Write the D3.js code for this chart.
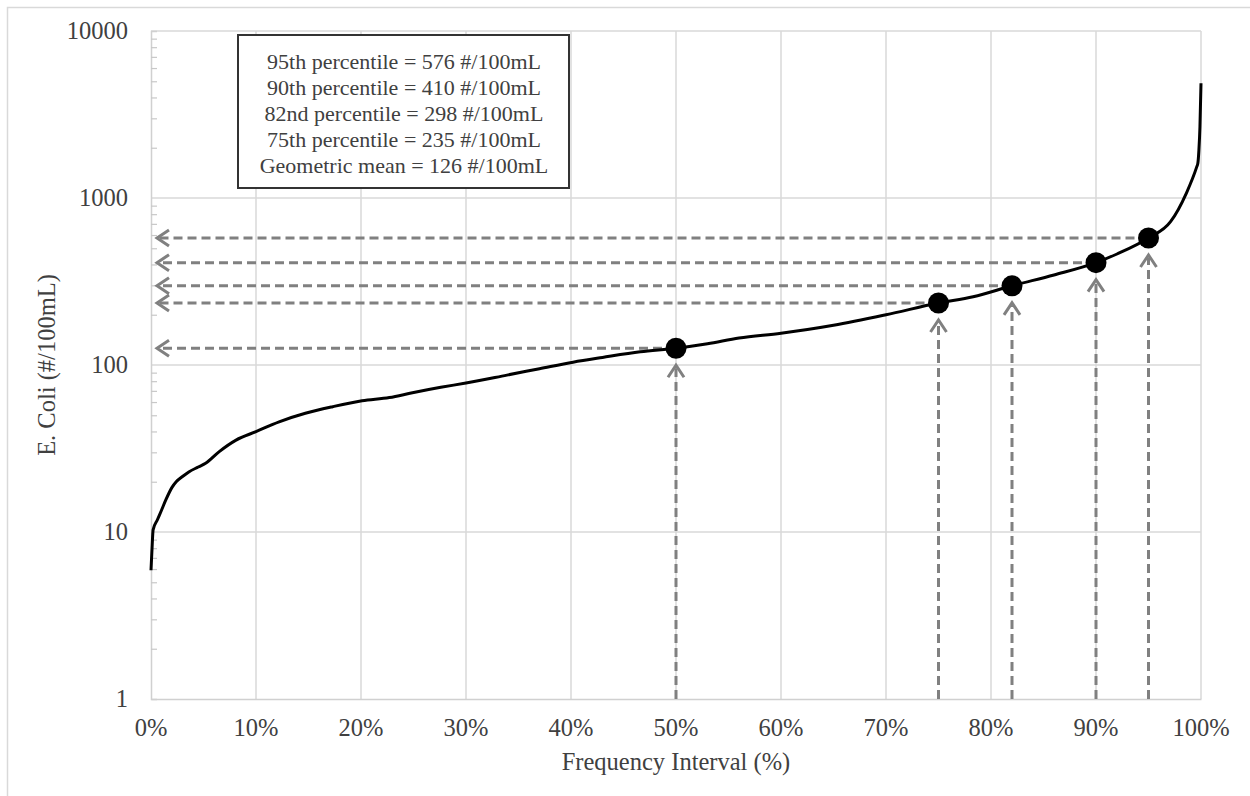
<!DOCTYPE html>
<html>
<head>
<meta charset="utf-8">
<script src="https://cdn.jsdelivr.net/npm/d3@7"></script>
<style>
  html, body { margin: 0; padding: 0; background: #fff; }
  svg { display: block; }
  text { font-family: "Liberation Serif", "Times New Roman", serif; fill: #404040; }
</style>
</head>
<body>
<svg id="chart" width="1250" height="796"></svg>
<script>
// Cumulative frequency curve of E. coli counts (percent of samples, #/100mL)
const curvePercent = [0, 0.1, 0.2, 0.6, 1.0, 1.4, 2.0, 2.4, 3.0, 3.6, 4.5, 5.2, 6.5, 8.1, 10, 12.2, 14.7, 17.3, 20.1, 22.7, 24.9, 27.6, 30, 33.9, 37, 40.2, 43, 46.6, 50, 53, 56, 60, 65, 70, 75, 78.3, 82, 86, 90, 92, 95, 97.1, 98.6, 99.6, 99.7, 99.8, 99.9, 100];
const curveValue   = [5.9, 8, 10.3, 11.8, 13.5, 15.5, 18.5, 20, 21.5, 22.9, 24.5, 25.8, 30.3, 35.5, 39.9, 45.7, 51.4, 56.3, 61.1, 63.8, 68.2, 73.5, 78, 87, 95, 104, 111, 120, 126, 134, 145, 155, 173, 200, 235, 256, 298, 346, 410, 462, 576, 721, 1067, 1541, 1614, 1937, 2673, 4860];

// Highlighted statistics
const markPercent = [50, 75, 82, 90, 95];
const markValue   = [126, 235, 298, 410, 576];

const legendLines = [
  "95th percentile = 576 #/100mL",
  "90th percentile = 410 #/100mL",
  "82nd percentile = 298 #/100mL",
  "75th percentile = 235 #/100mL",
  "Geometric mean = 126 #/100mL"
];

const xTicks = [0, 10, 20, 30, 40, 50, 60, 70, 80, 90, 100];
const yTicks = [1, 10, 100, 1000, 10000];

const svg = d3.select("#chart");

// outer frame
svg.append("rect")
  .attr("x", 7.5).attr("y", 7.5).attr("width", 1260).attr("height", 800)
  .attr("fill", "none").attr("stroke", "#d9d9d9").attr("stroke-width", 1.5);

const x = d3.scaleLinear().domain([0, 100]).range([151, 1201]);
const y = d3.scaleLog().domain([1, 10000]).range([699, 31]);

const grid = svg.append("g");
grid.selectAll("line.v").data(xTicks.slice(1)).join("line")
  .attr("x1", d => x(d)).attr("x2", d => x(d))
  .attr("y1", y(10000)).attr("y2", y(1))
  .attr("stroke", "#d9d9d9").attr("stroke-width", 1.5);
grid.selectAll("line.h").data(yTicks.slice(1)).join("line")
  .attr("x1", x(0)).attr("x2", x(100))
  .attr("y1", d => y(d)).attr("y2", d => y(d))
  .attr("stroke", "#d9d9d9").attr("stroke-width", 1.5);

// left axis with minor log ticks pointing inward
const minor = [];
for (let dec = 1; dec < 10000; dec *= 10)
  for (let m = 2; m <= 9; m++) minor.push(dec * m);
const yAxis = d3.axisLeft(y).tickValues(minor).tickSize(-6).tickFormat("");
const ya = svg.append("g").attr("transform", `translate(${x(0)},0)`).call(yAxis);
ya.select(".domain").attr("stroke", "#d0d0d0").attr("stroke-width", 1.5);
ya.selectAll(".tick line").attr("stroke", "#c8c8c8").attr("stroke-width", 1.2);

// bottom axis line
const xAxis = d3.axisBottom(x).tickValues(xTicks).tickSize(0).tickFormat("");
const xa = svg.append("g").attr("transform", `translate(0,${y(1)})`).call(xAxis);
xa.select(".domain").attr("stroke", "#d0d0d0").attr("stroke-width", 1.5);

// tick labels
svg.append("g").selectAll("text").data(xTicks).join("text")
  .attr("x", d => x(d)).attr("y", 736)
  .attr("text-anchor", "middle").attr("font-size", 24.5)
  .text(d => d + "%");
svg.append("g").selectAll("text").data(yTicks).join("text")
  .attr("x", 128).attr("y", d => y(d) + 8)
  .attr("text-anchor", "end").attr("font-size", 24.5)
  .text(d => d);

// axis titles
svg.append("text").attr("x", 676).attr("y", 770)
  .attr("text-anchor", "middle").attr("font-size", 24.5)
  .text("Frequency Interval (%)");
svg.append("text")
  .attr("transform", `translate(55,365) rotate(-90)`)
  .attr("text-anchor", "middle").attr("font-size", 24.5)
  .text("E. Coli (#/100mL)");

// dashed leader arrows
const arrows = svg.append("g")
  .attr("stroke", "#808080").attr("stroke-width", 3).attr("fill", "none");
const marks = markPercent.map((p, i) => ({ p, v: markValue[i] }));
const hTip = x(0) + 6;
marks.forEach(d => {
  const cx = x(d.p), cy = y(d.v);
  // horizontal: from point to value axis
  arrows.append("line")
    .attr("x1", cx).attr("x2", hTip + 3).attr("y1", cy).attr("y2", cy)
    .attr("stroke-dasharray", "9,5");
  arrows.append("path")
    .attr("d", `M${hTip + 12},${cy - 8}L${hTip},${cy}L${hTip + 12},${cy + 8}`);
  // vertical: from percent axis to point
  const vTip = cy + 17;
  arrows.append("line")
    .attr("x1", cx).attr("x2", cx).attr("y1", y(1)).attr("y2", vTip + 3)
    .attr("stroke-dasharray", "9,5");
  arrows.append("path")
    .attr("d", `M${cx - 8},${vTip + 12}L${cx},${vTip}L${cx + 8},${vTip + 12}`);
});

// frequency curve
const line = d3.line().curve(d3.curveMonotoneX).x(d => x(d[0])).y(d => y(d[1]));
svg.append("path")
  .datum(curvePercent.map((p, i) => [p, curveValue[i]]))
  .attr("d", line)
  .attr("fill", "none").attr("stroke", "#000").attr("stroke-width", 3)
  .attr("stroke-linejoin", "round");

// highlighted points
svg.append("g").selectAll("circle").data(marks).join("circle")
  .attr("cx", d => x(d.p)).attr("cy", d => y(d.v)).attr("r", 10.5)
  .attr("fill", "#000");

// statistics box
const box = svg.append("g");
box.append("rect")
  .attr("x", 238).attr("y", 35).attr("width", 331).attr("height", 153)
  .attr("fill", "#fff").attr("stroke", "#333").attr("stroke-width", 2);
box.selectAll("text").data(legendLines).join("text")
  .attr("x", 404).attr("y", (d, i) => 69 + i * 26)
  .attr("text-anchor", "middle").attr("font-size", 22)
  .attr("fill", "#333")
  .text(d => d);
</script>
</body>
</html>
